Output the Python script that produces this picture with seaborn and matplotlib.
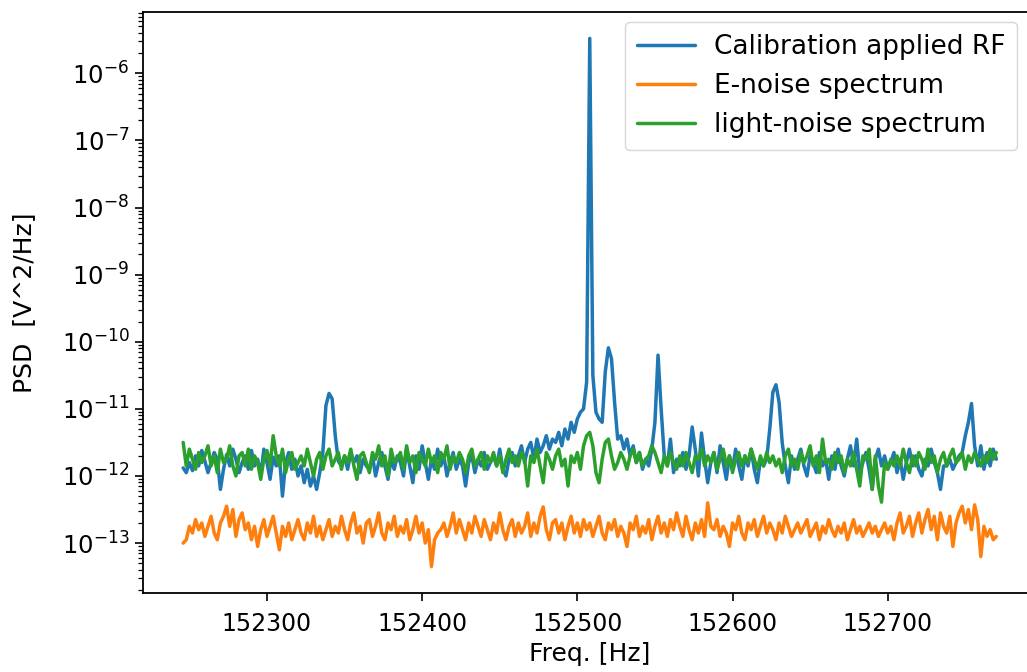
import numpy as np
import pandas as pd
import matplotlib
matplotlib.use("Agg")
import matplotlib.pyplot as plt
import seaborn as sns

# ---------------- data (log10 of PSD) ----------------
freq_start = 152246   # Hz
freq_step = 2         # Hz

series_names = ["Calibration applied RF", "E-noise spectrum", "light-noise spectrum"]
series_colors = ["#1f77b4", "#ff7f0e", "#2ca02c"]

calib_log = [
    -11.88, -11.95, -11.80, -11.92, -11.70, -11.85, -11.62, -11.78, -11.95, -11.80,
    -11.65, -11.75, -12.20, -11.90, -11.68, -11.85, -11.60, -11.75, -11.95, -11.80,
    -11.70, -11.90, -11.62, -11.85, -11.75, -11.98, -11.60, -11.80, -12.05, -11.72,
    -11.85, -11.70, -12.30, -11.80, -11.65, -11.90, -11.75, -12.00, -11.85, -12.10,
    -11.90, -12.15, -12.00, -12.20, -11.95, -11.65, -10.95, -10.77, -10.85, -11.40,
    -11.78, -11.85, -11.70, -11.90, -11.65, -11.80, -11.70, -11.95, -11.75, -11.85,
    -11.90, -11.70, -12.00, -11.80, -11.65, -11.85, -12.05, -11.75, -11.90, -11.70,
    -11.80, -12.00, -11.60, -11.85, -12.10, -11.70, -11.90, -11.55, -11.80, -12.05,
    -11.75, -11.90, -11.60, -11.85, -11.70, -12.00, -11.80, -11.65, -11.90, -11.75,
    -11.85, -12.15, -11.80, -11.70, -11.95, -11.75, -11.85, -11.65, -11.90, -11.80,
    -11.70, -11.85, -11.60, -11.90, -12.00, -11.75, -11.65, -11.85, -11.70, -11.55,
    -11.80, -11.60, -11.50, -11.75, -11.45, -11.65, -11.55, -11.40, -11.60, -11.45,
    -11.50, -11.35, -11.55, -11.30, -11.45, -11.20, -11.35, -11.15, -11.05, -11.00,
    -10.60, -5.48, -10.50, -11.05, -11.15, -11.20, -10.45, -10.09, -10.25, -10.90,
    -11.45, -11.40, -11.60, -11.45, -11.70, -11.55, -11.80, -11.65, -11.90, -11.75,
    -11.85, -11.60, -11.20, -10.20, -11.00, -11.70, -11.85, -11.45, -11.95, -11.75,
    -11.85, -11.65, -11.90, -11.70, -11.27, -11.60, -12.00, -11.36, -11.75, -12.10,
    -11.80, -11.65, -11.95, -11.55, -11.80, -12.05, -11.70, -11.90, -11.60, -11.85,
    -12.05, -11.70, -11.85, -11.60, -11.90, -12.10, -11.75, -11.85, -11.75, -11.30,
    -10.75, -10.64, -10.90, -11.50, -11.85, -12.10, -11.70, -11.90, -11.75, -11.60,
    -11.85, -12.00, -11.70, -11.80, -11.95, -11.65, -11.85, -11.75, -12.05, -11.70,
    -11.90, -11.60, -11.85, -12.00, -11.75, -11.55, -11.85, -11.45, -11.95, -11.80,
    -11.65, -11.90, -12.20, -11.75, -11.60, -11.85, -11.70, -11.90, -11.80, -11.65,
    -11.95, -11.75, -12.05, -11.80, -11.60, -11.85, -11.70, -11.90, -12.00, -11.75,
    -11.85, -11.60, -11.80, -11.95, -12.20, -11.85, -11.85, -11.75, -11.90, -11.80,
    -11.70, -11.65, -11.40, -11.20, -10.92, -11.55, -11.85, -11.55, -11.90, -11.65,
    -11.85, -11.60, -11.75,
]

enoise_log = [
    -13.00, -12.95, -12.75, -12.85, -12.65, -12.80, -12.70, -12.90, -12.75, -12.60,
    -12.85, -12.95, -12.70, -12.60, -12.45, -12.75, -12.50, -12.90, -12.65, -12.55,
    -12.80, -12.70, -12.95, -12.75, -13.05, -12.80, -12.65, -12.90, -12.75, -12.60,
    -12.85, -13.10, -12.75, -12.90, -12.70, -12.95, -12.80, -12.65, -12.85, -12.95,
    -12.70, -12.85, -12.60, -12.90, -12.75, -12.95, -12.80, -12.65, -12.90, -12.75,
    -12.85, -12.60, -12.80, -12.95, -12.70, -12.55, -12.85, -12.75, -13.00, -12.70,
    -12.65, -12.90, -12.75, -12.55, -12.85, -12.95, -12.70, -12.80, -12.60, -12.90,
    -12.75, -12.85, -12.65, -12.95, -12.80, -12.60, -12.85, -12.70, -13.00, -12.80,
    -13.35, -12.95, -12.85, -12.80, -12.70, -12.90, -12.75, -12.55, -12.85, -12.65,
    -12.80, -12.95, -12.70, -12.85, -12.60, -12.75, -12.90, -12.65, -12.80, -12.95,
    -12.70, -12.85, -12.55, -12.80, -12.95, -12.75, -12.65, -12.90, -12.70, -12.85,
    -12.75, -12.55, -12.90, -12.70, -12.85, -12.60, -12.46, -12.80, -12.95, -12.70,
    -12.65, -12.85, -12.70, -12.95, -12.75, -12.60, -12.85, -12.70, -12.90, -12.65,
    -12.80, -12.70, -12.90, -12.75, -12.60, -12.85, -12.95, -12.70, -12.80, -12.65,
    -12.90, -12.75, -12.85, -13.05, -12.70, -12.80, -12.60, -12.90, -12.75, -12.85,
    -12.65, -12.95, -12.75, -12.60, -12.85, -12.70, -12.90, -12.65, -12.80, -12.55,
    -12.75, -12.90, -12.60, -12.80, -12.95, -12.70, -12.85, -12.65, -12.90, -12.40,
    -12.75, -12.80, -12.65, -12.90, -12.75, -12.85, -13.05, -12.70, -12.80, -12.60,
    -12.85, -12.95, -12.70, -12.80, -12.65, -12.90, -12.75, -12.60, -12.85, -12.70,
    -12.80, -12.95, -12.70, -12.85, -12.60, -12.75, -12.90, -12.80, -12.70, -12.85,
    -12.75, -12.65, -12.90, -12.80, -12.70, -12.95, -12.75, -12.85, -12.65, -12.80,
    -12.90, -12.75, -12.85, -12.70, -12.95, -12.80, -12.65, -12.85, -12.75, -12.90,
    -12.80, -12.70, -12.85, -12.75, -12.90, -12.80, -12.70, -12.85, -12.75, -12.95,
    -12.70, -12.55, -12.85, -12.75, -12.60, -12.90, -12.70, -12.55, -12.85, -12.65,
    -12.50, -12.80, -12.60, -12.95, -12.55, -12.75, -12.85, -12.60, -13.05, -12.70,
    -12.55, -12.45, -12.70, -12.50, -12.80, -12.43, -12.65, -13.20, -12.75, -12.90,
    -12.80, -12.95, -12.90,
]

light_log = [
    -11.50, -11.85, -11.60, -11.75, -11.90, -11.65, -11.80, -11.70, -11.55, -11.85,
    -11.70, -11.95, -11.60, -11.80, -11.75, -11.55, -11.85, -12.00, -11.70, -11.65,
    -11.85, -11.60, -11.90, -11.70, -11.80, -12.05, -11.75, -11.62, -11.85, -11.40,
    -11.70, -11.85, -11.60, -11.95, -11.75, -11.65, -11.90, -11.80, -11.70, -11.85,
    -11.60, -11.80, -12.00, -11.75, -11.65, -11.90, -11.70, -11.60, -11.85, -11.75,
    -11.65, -11.90, -11.70, -11.80, -11.60, -11.85, -12.05, -11.70, -11.65, -11.80,
    -11.95, -11.65, -11.75, -11.55, -11.85, -11.70, -12.00, -11.60, -11.80, -11.75,
    -11.65, -11.90, -11.55, -11.80, -11.70, -11.95, -11.65, -11.75, -11.85, -11.60,
    -11.80, -11.70, -11.95, -11.65, -11.75, -11.55, -11.90, -11.70, -11.80, -11.65,
    -11.75, -11.95, -11.70, -11.60, -11.85, -11.75, -11.65, -11.90, -11.70, -11.80,
    -11.65, -11.85, -11.70, -11.95, -11.75, -11.60, -11.80, -11.70, -11.85, -11.65,
    -11.75, -12.15, -11.70, -11.80, -11.60, -11.85, -12.10, -11.65, -11.75, -11.90,
    -11.70, -11.60, -11.85, -11.75, -12.15, -11.70, -11.80, -11.65, -11.90, -11.55,
    -11.40, -11.35, -11.55, -11.95, -12.10, -11.75, -11.50, -11.45, -11.70, -11.90,
    -11.80, -11.65, -11.75, -11.90, -11.70, -11.60, -11.80, -11.65, -11.85, -11.75,
    -11.70, -11.55, -11.65, -11.80, -11.95, -11.70, -11.85, -11.65, -11.80, -11.90,
    -11.70, -11.85, -11.65, -11.80, -11.95, -11.70, -11.75, -11.60, -11.85, -11.70,
    -11.80, -11.65, -11.90, -11.75, -11.60, -11.85, -11.70, -11.95, -11.75, -11.65,
    -11.85, -11.70, -11.80, -11.60, -11.75, -11.90, -11.70, -11.85, -11.65, -11.80,
    -11.70, -11.85, -11.75, -11.95, -11.70, -11.60, -11.85, -11.75, -11.90, -11.65,
    -11.80, -11.70, -11.55, -11.85, -11.70, -11.95, -11.45, -11.80, -11.75, -11.90,
    -11.65, -11.80, -11.70, -11.95, -11.75, -11.85, -11.65, -11.90, -12.15, -11.70,
    -11.75, -11.60, -12.20, -11.70, -12.15, -12.39, -11.80, -11.90, -11.75, -11.85,
    -11.70, -11.85, -11.60, -11.80, -11.95, -11.70, -11.85, -11.65, -11.75, -11.90,
    -11.60, -11.80, -11.70, -11.95, -11.75, -11.65, -11.85, -11.70, -11.60, -11.80,
    -11.75, -11.65, -11.90, -11.70, -11.80, -11.65, -11.75, -11.85, -11.70, -11.80,
    -11.60, -11.75, -11.65,
]

x_ticks = [152300, 152400, 152500, 152600, 152700]
x_label = "Freq. [Hz]"
y_label = "PSD  [V^2/Hz]"

# ---------------- figure ----------------
sns.set_theme(style="ticks")
plt.rcParams.update({
    "font.family": ["DejaVu Sans"],
    "axes.edgecolor": "black",
    "axes.linewidth": 1.3,
    "xtick.color": "black",
    "ytick.color": "black",
    "xtick.major.size": 6,
    "ytick.major.size": 6,
    "ytick.minor.size": 3.5,
    "xtick.major.width": 1.2,
    "ytick.major.width": 1.2,
    "ytick.minor.width": 0.9,
    "xtick.labelsize": 17,
    "ytick.labelsize": 17.5,
    "axes.labelsize": 18,
    "legend.fontsize": 19,
    "text.color": "black",
    "axes.labelcolor": "black",
})

fig = plt.figure(figsize=(10.27, 6.72), dpi=100)
ax = fig.add_axes([142.5 / 1027, 79 / 672, (1037 - 142.5) / 1027, 581 / 672])

n = len(calib_log)
freqs = freq_start + freq_step * np.arange(n)
for name, vals, col in zip(series_names, [calib_log, enoise_log, light_log], series_colors):
    df = pd.DataFrame({"freq": freqs, "psd": 10.0 ** np.asarray(vals)})
    sns.lineplot(data=df, x="freq", y="psd", ax=ax, color=col, linewidth=2.5,
                 label=name, estimator=None, sort=False)

ax.set_yscale("log")
ax.set_xticks(x_ticks)
ax.set_xticklabels([str(t) for t in x_ticks])
ax.tick_params(axis="x", which="minor", bottom=False)
ax.tick_params(axis="x", pad=8)

ax.set_xlabel(x_label, labelpad=4)
ax.set_ylabel(y_label, labelpad=18)

leg = ax.legend(loc="upper right", bbox_to_anchor=(0.9776, 0.9828), borderaxespad=0,
                frameon=True, handlelength=2.2, handletextpad=0.7, labelspacing=0.5,
                borderpad=0.45)
leg.get_frame().set_edgecolor("#cccccc")
leg.get_frame().set_linewidth(1.0)

fig.savefig("out.png", dpi=100)
